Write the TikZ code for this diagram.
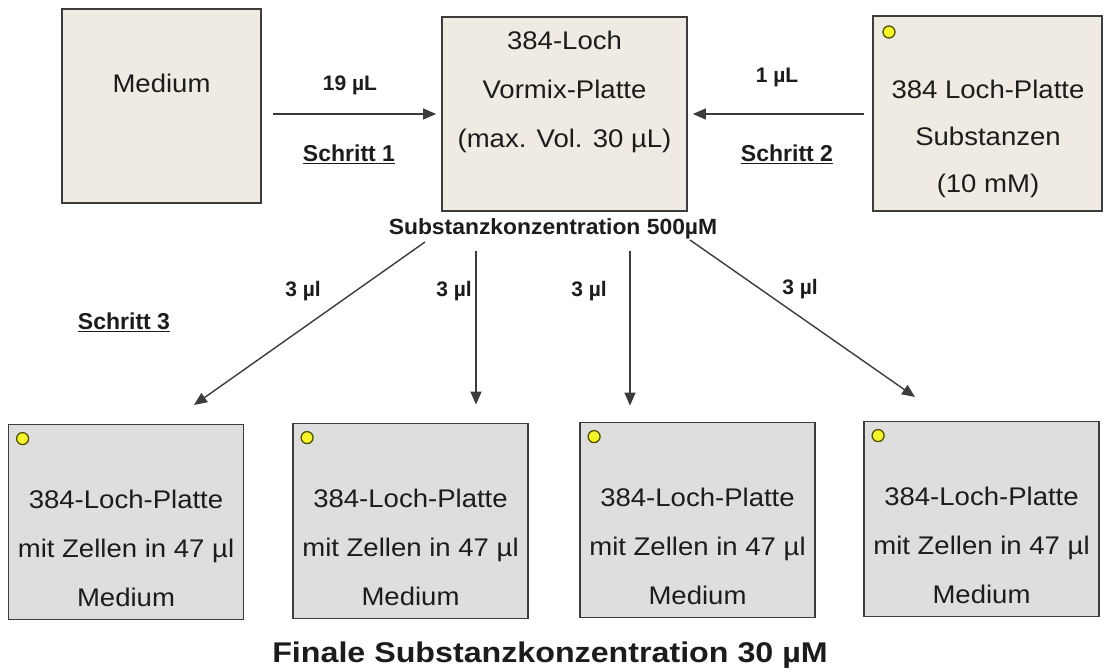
\documentclass[tikz,border=0pt]{standalone}
\usepackage{fontspec}
\setmainfont{Liberation Sans}
\newfontfamily\boxfont[FakeStretch=1.08]{Liberation Sans}
\newfontfamily\concfont[FakeStretch=1.04]{Liberation Sans}
\newfontfamily\finfont[FakeStretch=1.13]{Liberation Sans}
\usetikzlibrary{arrows.meta}
\definecolor{beige}{HTML}{EFEBE2}
\definecolor{plate}{HTML}{DEDEDE}
\definecolor{edge}{HTML}{3C3C3C}
\definecolor{ink}{HTML}{1C1C1C}
\definecolor{dot}{HTML}{F5F52A}
\definecolor{dotedge}{HTML}{505000}
\begin{document}
\begin{tikzpicture}[x=1pt,y=-1pt,
  topbox/.style={draw=edge,line width=1.8pt,fill=beige,inner sep=0pt},
  platebox/.style={draw=edge,line width=1.8pt,fill=plate,inner sep=0pt,minimum width=235,minimum height=195},
  boxtext/.style={align=center,font=\boxfont\fontsize{25.5}{49}\selectfont,text=ink,inner sep=0pt},
  vol/.style={font=\bfseries\fontsize{21}{24}\selectfont,text=ink,inner sep=0pt},
  steplbl/.style={font=\bfseries\fontsize{23}{26}\selectfont,text=ink,inner sep=0pt},
  flow/.style={draw=edge,line width=1.4pt,-{Triangle[length=13pt,width=11pt]}},
  welldot/.style={circle,draw=dotedge,fill=dot,line width=1.3pt,minimum size=12pt,inner sep=0pt}]
\useasboundingbox (0,0) rectangle (1114,672);
\fill[white] (0,0) rectangle (1114,672);

% top row
\node[topbox,minimum width=199,minimum height=194] (medium) at (161.5,106) {};
\node[boxtext] (mediumtxt) at (161.5,83) {Medium};
\node[topbox,minimum width=245,minimum height=194] (vormix) at (564.5,114) {};
\node[boxtext] (vormixtxt) at (564.5,92) {384-Loch\\Vormix-Platte\\(max. Vol. 30 µL)};
\node[topbox,minimum width=229,minimum height=195] (subst) at (987.5,113.5) {};
\node[welldot] (substdot) at (889,32) {};
\node[boxtext,font=\boxfont\fontsize{25.5}{47}\selectfont] (substtxt) at (988,139) {384 Loch-Platte\\Substanzen\\(10 mM)};

% horizontal transfers
\draw[flow,shorten <=11pt,shorten >=5pt] (medium.east |- vormix.west) -- (vormix.west);
\draw[flow,shorten <=8pt,shorten >=5pt] (subst.west |- vormix.east) -- (vormix.east);
\node[vol] (v19) at (350,85) {19 µL};
\node[steplbl] (st1) at (349,154) {\underline{Schritt 1}};
\node[vol] (v1) at (777,77) {1 µL};
\node[steplbl] (st2) at (787,154) {\underline{Schritt 2}};

% concentration
\node[font=\concfont\bfseries\fontsize{22}{25}\selectfont,text=ink,inner sep=0pt] (conc) at (553,229) {Substanzkonzentration 500µM};

% bottom plates
\node[platebox] (p1) at (126,522) {};
\node[platebox] (p2) at (410.5,521) {};
\node[platebox] (p3) at (697.5,520) {};
\node[platebox] (p4) at (981.5,519) {};
\foreach \p in {p1,p2,p3,p4}{
  \node[welldot] (\p dot) at ([xshift=15pt,yshift=-15pt]\p.north west) {};
  \node[boxtext] (\p txt) at ([yshift=-26pt]\p.center) {384-Loch-Platte\\mit Zellen in 47 µl\\Medium};
}

% step 3 transfers
\coordinate (s1) at (425,242);
\coordinate (s2) at (476,251);
\coordinate (s3) at (630,251);
\coordinate (s4) at (690,240);
\coordinate (t1) at (194,405);
\coordinate (t4) at (915,397);
\draw[flow] (s1) -- (t1);
\draw[flow,shorten >=18pt] (s2) -- (s2 |- p2.north);
\draw[flow,shorten >=16pt] (s3) -- (s3 |- p3.north);
\draw[flow] (s4) -- (t4);
\node[vol] (v3a) at (303,291) {3 µl};
\node[vol] (v3b) at (454,291) {3 µl};
\node[vol] (v3c) at (589,291) {3 µl};
\node[vol] (v3d) at (800,289) {3 µl};
\node[steplbl] (st3) at (124,322) {\underline{Schritt 3}};

% final
\node[font=\finfont\bfseries\fontsize{28.5}{32}\selectfont,text=ink,inner sep=0pt] (final) at (550,655) {Finale Substanzkonzentration 30 µM};
\end{tikzpicture}
\end{document}
